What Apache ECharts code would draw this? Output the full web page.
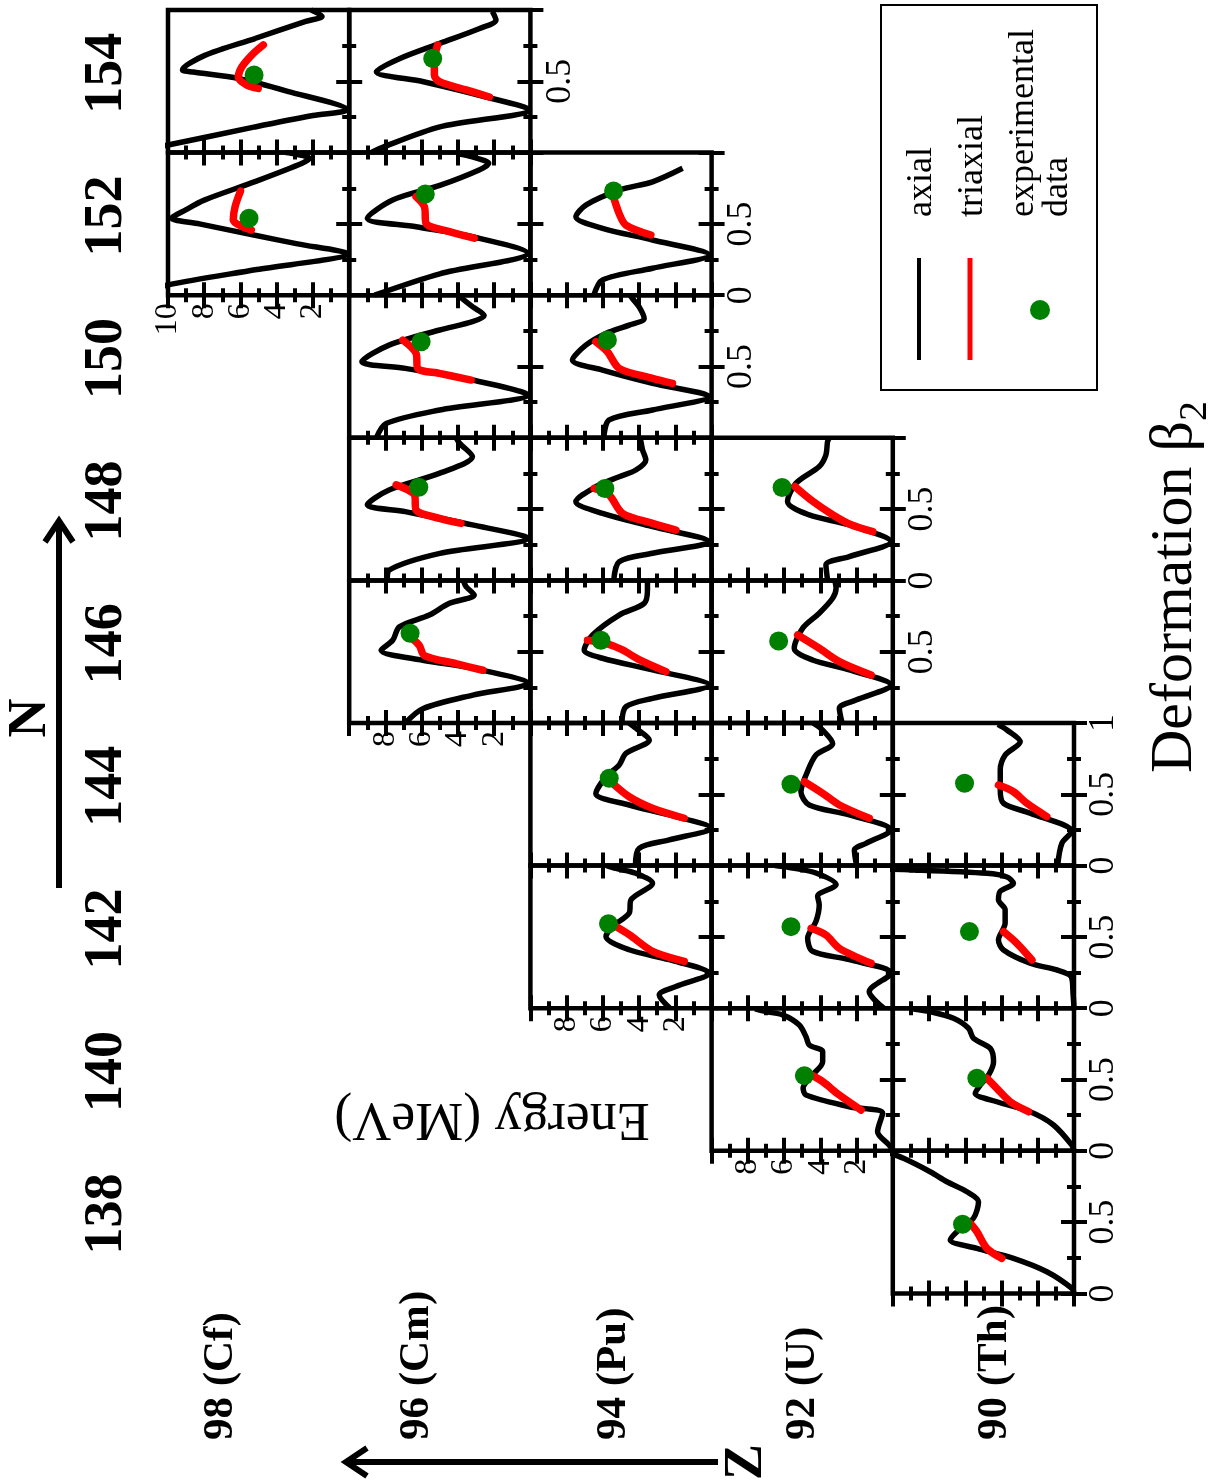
<!DOCTYPE html>
<html><head><meta charset="utf-8">
<script src="https://cdn.jsdelivr.net/npm/echarts@6/dist/echarts.min.js"></script>
<style>html,body{margin:0;padding:0;background:#fff}#c{width:1225px;height:1484px}</style>
</head><body><div id="c"></div>
<script>
// ---------- categories ----------
const zOrder = ['Cf', 'Cm', 'Pu', 'U', 'Th'];
const zLabels = ['98 (Cf)', '96 (Cm)', '94 (Pu)', '92 (U)', '90 (Th)'];
const nOrder = [154, 152, 150, 148, 146, 144, 142, 140, 138];
const nLabels = ['154', '152', '150', '148', '146', '144', '142', '140', '138'];

// ---------- data: [energy (MeV), deformation beta2] ----------
const cf154_axial = [[12.0,0.0],[10.0,0.053],[5.2,0.18],[2.0,0.26],[0.1,0.30],[3.4,0.43],[6.1,0.52],[8.6,0.565],[9.2,0.58],[8.0,0.68],[5.2,0.80],[2.4,0.92],[1.5,0.955],[2.1,1.0]];
const cf154_triax = [[4.74,0.755],[5.38,0.684],[5.93,0.60],[6.12,0.53],[5.66,0.474],[5.02,0.45]];
const cf154_exp = [[5.25,0.544]];

const cf152_axial = [[11.5,0.0],[10.0,0.072],[5.1,0.18],[0.1,0.29],[2.85,0.36],[5.2,0.42],[8.27,0.50],[9.8,0.54],[9.0,0.60],[8.0,0.667],[5.2,0.796],[2.6,0.925],[2.2,0.96],[3.0,0.99],[3.5,1.0]];
const cf152_triax = [[6.0,0.73],[6.3,0.62],[6.4,0.527],[5.9,0.48],[5.4,0.457]];
const cf152_exp = [[5.53,0.54]];

const cm154_axial = [[8.8,0.0],[8.3,0.03],[5.0,0.18],[0.05,0.30],[2.45,0.39],[5.9,0.497],[8.5,0.567],[7.2,0.66],[5.0,0.766],[2.8,0.87],[1.9,0.93],[2.1,0.99]];
const cm154_triax = [[2.26,0.39],[3.55,0.44],[5.02,0.497],[5.3,0.544],[5.3,0.649],[5.12,0.755]];
const cm154_exp = [[5.39,0.66]];

const cm152_axial = [[8.6,0.0],[5.0,0.15],[0.15,0.294],[3.2,0.41],[6.3,0.48],[9.0,0.539],[7.6,0.668],[5.0,0.77],[2.8,0.88],[2.3,0.925],[3.2,0.97],[3.9,0.99]];
const cm152_triax = [[3.1,0.40],[4.47,0.446],[5.76,0.504],[5.85,0.62],[6.31,0.69]];
const cm152_exp = [[5.8,0.71]];

const cm150_axial = [[8.5,0.0],[7.96,0.1],[5.0,0.195],[0.15,0.30],[3.2,0.405],[6.9,0.487],[9.3,0.534],[7.8,0.65],[5.0,0.756],[3.2,0.814],[2.55,0.857],[3.2,0.92],[3.9,0.99]];
const cm150_triax = [[3.27,0.405],[5.02,0.452],[6.22,0.487],[6.31,0.592],[7.04,0.685]];
const cm150_exp = [[6.03,0.674]];

const cm148_axial = [[7.9,0.0],[7.78,0.073],[5.0,0.19],[0.15,0.295],[3.2,0.389],[6.9,0.482],[9.0,0.53],[7.8,0.634],[5.0,0.752],[3.2,0.868],[3.9,0.961],[4.1,1.0]];
const cm148_triax = [[3.83,0.40],[5.02,0.435],[6.31,0.494],[6.4,0.60],[7.41,0.67]];
const cm148_exp = [[6.16,0.653]];

const cm146_axial = [[6.9,0.0],[5.94,0.10],[3.18,0.196],[0.15,0.278],[3.18,0.384],[5.94,0.44],[8.24,0.51],[7.6,0.58],[7.23,0.674],[5.58,0.757],[4.47,0.839],[3.1,0.898],[3.55,0.956],[3.7,1.0]];
const cm146_triax = [[2.63,0.37],[4.1,0.416],[5.85,0.473],[6.13,0.543],[6.59,0.60]];
const cm146_exp = [[6.64,0.63]];

const pu152_axial = [[6.5,0.0],[6.02,0.107],[3.26,0.189],[0.13,0.282],[3.26,0.387],[6.02,0.469],[7.49,0.55],[6.94,0.632],[5.1,0.737],[3.26,0.795],[1.6,0.89]];
const pu152_triax = [[3.35,0.422],[4.73,0.492],[5.1,0.572],[5.47,0.712]];
const pu152_exp = [[5.41,0.731]];

const pu150_axial = [[5.95,0.0],[5.65,0.125],[3.26,0.195],[0.13,0.288],[3.26,0.382],[6.02,0.475],[7.68,0.546],[6.94,0.65],[5.83,0.732],[4.55,0.79],[3.72,0.837],[4.0,0.918],[4.37,0.977],[4.5,1.0]];
const pu150_triax = [[2.16,0.382],[3.26,0.417],[5.1,0.487],[5.75,0.604],[6.39,0.674]];
const pu150_exp = [[5.75,0.686]];

const pu148_axial = [[5.4,0.0],[5.1,0.131],[3.26,0.19],[0.13,0.271],[3.26,0.377],[6.02,0.47],[7.49,0.552],[6.39,0.657],[5.1,0.727],[4.18,0.774],[3.63,0.845],[3.81,0.915],[3.9,0.973],[3.95,1.0]];
const pu148_triax = [[1.97,0.353],[3.26,0.40],[4.92,0.47],[5.65,0.598],[6.48,0.645]];
const pu148_exp = [[5.89,0.645]];

const pu146_axial = [[4.95,0.0],[4.73,0.114],[3.26,0.173],[0.13,0.266],[3.26,0.372],[6.02,0.454],[7.03,0.512],[6.57,0.617],[5.1,0.757],[3.72,0.839],[3.54,0.932],[3.54,1.0]];
const pu146_triax = [[2.52,0.36],[4.0,0.444],[4.92,0.512],[5.83,0.558],[6.85,0.58]];
const pu146_exp = [[6.11,0.58]];

const pu144_axial = [[4.2,0.0],[4.0,0.121],[2.34,0.18],[0.04,0.262],[2.34,0.355],[4.55,0.425],[6.39,0.506],[5.83,0.623],[5.1,0.705],[4.73,0.787],[3.44,0.88],[4.18,0.963],[4.55,1.0]];
const pu144_triax = [[1.51,0.332],[3.26,0.402],[4.55,0.483],[5.56,0.588]];
const pu144_exp = [[5.65,0.612]];

const pu142_axial = [[2.3,0.0],[2.89,0.093],[1.97,0.152],[0.13,0.245],[2.34,0.34],[4.55,0.41],[5.83,0.503],[5.47,0.573],[4.55,0.666],[4.45,0.76],[3.26,0.876],[4.18,0.946],[5.28,0.98],[5.8,1.0]];
const pu142_triax = [[1.51,0.329],[3.26,0.399],[4.55,0.516],[5.28,0.573]];
const pu142_exp = [[5.69,0.592]];

const u148_axial = [[3.6,0.0],[3.69,0.109],[2.4,0.167],[0.1,0.271],[2.4,0.389],[4.61,0.459],[5.81,0.553],[5.34,0.682],[4.06,0.799],[3.69,0.881],[3.6,0.974],[3.5,1.0]];
const u148_triax = [[1.1,0.342],[2.3,0.39],[3.3,0.459],[4.4,0.553],[5.4,0.658]];
const u148_exp = [[6.11,0.651]];

const u146_axial = [[2.8,0.0],[2.95,0.103],[2.03,0.161],[0.1,0.266],[2.4,0.372],[4.43,0.442],[5.44,0.524],[4.98,0.664],[4.06,0.77],[3.32,0.875],[3.13,0.945],[3.2,1.0]];
const u146_triax = [[1.2,0.336],[2.95,0.43],[4.06,0.524],[5.25,0.617]];
const u146_exp = [[6.3,0.575]];

const u144_axial = [[2.0,0.0],[2.12,0.109],[1.48,0.156],[0.1,0.25],[2.4,0.355],[4.61,0.425],[5.07,0.518],[4.79,0.635],[4.24,0.775],[3.32,0.857],[3.87,0.95],[4.4,1.0]];
const u144_triax = [[1.3,0.332],[2.95,0.425],[3.87,0.507],[4.88,0.588]];
const u144_exp = [[5.62,0.57]];

const u142_axial = [[0.5,0.0],[1.3,0.116],[0.1,0.245],[2.4,0.34],[4.43,0.399],[4.7,0.492],[4.24,0.609],[4.06,0.726],[4.15,0.785],[3.13,0.867],[4.24,0.948],[5.53,0.983],[6.5,1.0]];
const u142_triax = [[1.2,0.315],[2.95,0.42],[3.69,0.513],[4.51,0.56]];
const u142_exp = [[5.62,0.572]];

const u140_axial = [[0.0,0.0],[0.2,0.04],[0.84,0.134],[0.56,0.263],[2.4,0.309],[4.79,0.391],[4.95,0.44],[4.43,0.532],[3.87,0.625],[3.87,0.695],[4.61,0.742],[4.79,0.80],[5.16,0.882],[6.08,0.953],[7.0,0.976],[7.6,0.995]];
const u140_triax = [[1.75,0.286],[2.95,0.391],[3.87,0.485],[4.51,0.532]];
const u140_exp = [[4.88,0.527]];

const th144_axial = [[0.9,0.0],[0.67,0.156],[0.12,0.239],[2.42,0.367],[3.89,0.437],[4.07,0.53],[4.07,0.67],[3.8,0.775],[2.97,0.869],[3.7,0.951],[4.2,0.99]];
const th144_triax = [[1.5,0.344],[2.6,0.437],[3.34,0.518],[4.17,0.565]];
const th144_exp = [[6.04,0.577]];

const th142_axial = [[0.0,0.0],[0.05,0.1],[0.15,0.22],[1.0,0.27],[2.42,0.315],[3.89,0.408],[4.17,0.478],[3.8,0.597],[3.8,0.69],[4.17,0.76],[4.07,0.82],[3.34,0.876],[3.7,0.92],[4.81,0.946],[8.86,0.97],[11.0,0.975]];
const th142_triax = [[2.32,0.338],[3.15,0.455],[3.89,0.537]];
const th142_exp = [[5.77,0.537]];

const th140_axial = [[0.0,0.0],[0.12,0.04],[1.13,0.181],[2.42,0.274],[4.26,0.344],[5.45,0.403],[5.18,0.46],[4.72,0.53],[4.44,0.625],[4.62,0.718],[5.55,0.789],[5.82,0.859],[6.65,0.929],[7.94,0.976],[8.86,0.995]];
const th140_triax = [[2.51,0.274],[3.52,0.344],[4.26,0.438],[4.81,0.509]];
const th140_exp = [[5.36,0.509]];

const th138_axial = [[0.0,0.0],[0.12,0.036],[1.5,0.152],[3.34,0.246],[5.36,0.316],[6.83,0.374],[6.46,0.433],[5.55,0.527],[5.27,0.643],[5.91,0.713],[7.01,0.783],[7.94,0.853],[9.41,0.947],[10.5,1.0]];
const th138_triax = [[3.98,0.246],[4.81,0.316],[5.36,0.433],[5.73,0.492]];
const th138_exp = [[6.15,0.485]];

// ---------- tick labels ----------
const energyTicksShown = [2, 4, 6, 8];
const energyTicksShownCf = [2, 4, 6, 8, 10];
const betaMid = [0.5];
const betaMidZero = [0, 0.5];
const betaAll = [0, 0.5, 1];

// panel list: Z, N, data, label sets
const panels = [
  ['Cf',154,cf154_axial,cf154_triax,cf154_exp,null,null],
  ['Cf',152,cf152_axial,cf152_triax,cf152_exp,energyTicksShownCf,null],
  ['Cm',154,cm154_axial,cm154_triax,cm154_exp,null,betaMid],
  ['Cm',152,cm152_axial,cm152_triax,cm152_exp,null,null],
  ['Cm',150,cm150_axial,cm150_triax,cm150_exp,null,null],
  ['Cm',148,cm148_axial,cm148_triax,cm148_exp,null,null],
  ['Cm',146,cm146_axial,cm146_triax,cm146_exp,energyTicksShown,null],
  ['Pu',152,pu152_axial,pu152_triax,pu152_exp,null,betaMidZero],
  ['Pu',150,pu150_axial,pu150_triax,pu150_exp,null,betaMid],
  ['Pu',148,pu148_axial,pu148_triax,pu148_exp,null,null],
  ['Pu',146,pu146_axial,pu146_triax,pu146_exp,null,null],
  ['Pu',144,pu144_axial,pu144_triax,pu144_exp,null,null],
  ['Pu',142,pu142_axial,pu142_triax,pu142_exp,energyTicksShown,null],
  ['U',148,u148_axial,u148_triax,u148_exp,null,betaMidZero],
  ['U',146,u146_axial,u146_triax,u146_exp,null,betaMid],
  ['U',144,u144_axial,u144_triax,u144_exp,null,null],
  ['U',142,u142_axial,u142_triax,u142_exp,null,null],
  ['U',140,u140_axial,u140_triax,u140_exp,energyTicksShown,null],
  ['Th',144,th144_axial,th144_triax,th144_exp,null,betaAll],
  ['Th',142,th142_axial,th142_triax,th142_exp,null,betaMidZero],
  ['Th',140,th140_axial,th140_triax,th140_exp,null,betaMidZero],
  ['Th',138,th138_axial,th138_triax,th138_exp,null,betaMidZero]
];

// ---------- layout ----------
const FONT = "'Liberation Serif', 'Times New Roman', serif";
const X0 = 168, PW = 181.2, Y0 = 10, PH = 142.6;
const tickStyle = {color: '#000', width: 4};

const grids = [], xAxes = [], yAxes = [], series = [];
function axisCfg(i, pos, max, step, tickLen, lab, rot, size, margin) {
  return {gridIndex: i, type: 'value', min: 0, max: max, interval: step, position: pos,
    inverse: max === 10,
    axisLine: {show: false}, splitLine: {show: false}, minorTick: {show: false},
    axisTick: {show: true, inside: true, length: tickLen, lineStyle: tickStyle},
    axisLabel: lab ? {show: true, rotate: rot, margin: margin, fontSize: size, fontFamily: FONT, color: '#000',
      formatter: v => lab.includes(v) ? String(v) : ''} : {show: false}
  };
}
panels.forEach((p, i) => {
  const [z, n, axial, triax, exp, eLab, bLab] = p;
  const col = zOrder.indexOf(z), row = nOrder.indexOf(n);
  grids.push({left: X0 + col * PW, top: Y0 + row * PH, width: PW, height: PH,
    show: true, borderColor: '#000', borderWidth: 4.5, backgroundColor: 'transparent',
    containLabel: false, outerBoundsMode: 'none'});
  // x axes: bottom major (labels), bottom minor, top major, top minor
  xAxes.push(axisCfg(i, 'bottom', 10, 2, 13, eLab, 90, 32, 8));
  xAxes.push(axisCfg(i, 'bottom', 10, 1, 7, null));
  xAxes.push(axisCfg(i, 'top', 10, 2, 13, null));
  xAxes.push(axisCfg(i, 'top', 10, 1, 7, null));
  // y axes: right major (labels), right minor, left major, left minor
  yAxes.push(axisCfg(i, 'right', 1, 0.5, 13, bLab, 90, 36, 12));
  yAxes.push(axisCfg(i, 'right', 1, 0.25, 7, null));
  yAxes.push(axisCfg(i, 'left', 1, 0.5, 13, null));
  yAxes.push(axisCfg(i, 'left', 1, 0.25, 7, null));
  const xi = 4 * i, yi = 4 * i;
  series.push({type: 'line', name: 'axial', xAxisIndex: xi, yAxisIndex: yi, data: axial, smooth: 0.3,
    showSymbol: false, symbol: 'none', clip: true, lineStyle: {color: '#000', width: 5.5}, z: 2});
  series.push({type: 'line', name: 'triaxial', xAxisIndex: xi, yAxisIndex: yi, data: triax, smooth: 0.3,
    showSymbol: false, symbol: 'none', clip: true, lineStyle: {color: '#ff0000', width: 7.5, cap: 'round'}, z: 3});
  series.push({type: 'scatter', name: 'experimental data', xAxisIndex: xi, yAxisIndex: yi, data: exp,
    symbol: 'circle', symbolSize: 19, itemStyle: {color: '#008000', opacity: 1}, z: 4});
});

// ---------- text & decorations ----------
const R = Math.PI / 2;
function txt(x, y, text, size, weight, rot, align) {
  return {type: 'text', x, y, rotation: rot, z: 10,
    style: {text, fontSize: size, fontFamily: FONT, fontWeight: weight, fill: '#000',
      align: align, verticalAlign: 'middle'}};
}
const graphics = [];
nLabels.forEach((t, r) => graphics.push(txt(107, Y0 + r * PH + PH / 2 - 8, t, 54, 'bold', R, 'center')));
const zLabelX = [221, 417, 614, 803, 995];
zLabels.forEach((t, c) => graphics.push(txt(zLabelX[c], 1440, t, 43, 'bold', R, 'left')));
graphics.push(txt(31, 718, 'N', 54, 'bold', R, 'center'));
graphics.push(txt(747, 1462, 'Z', 54, 'bold', R, 'center'));
graphics.push(txt(492, 1118, 'Energy (MeV)', 54, 'normal', Math.PI, 'center'));
graphics.push({type: 'text', x: 1175, y: 587, rotation: R, z: 10,
  style: {text: '{a|Deformation β}{b|2}', align: 'center', verticalAlign: 'middle',
    rich: {a: {fontSize: 60, fontFamily: FONT, fill: '#000', lineHeight: 80, verticalAlign: 'middle'},
           b: {fontSize: 40, fontFamily: FONT, fill: '#000', lineHeight: 80, verticalAlign: 'bottom'}}}});
// arrows
graphics.push({type: 'line', shape: {x1: 59, y1: 888, x2: 59, y2: 524}, style: {stroke: '#000', lineWidth: 6}, z: 10});
graphics.push({type: 'polyline', shape: {points: [[45, 542], [59, 521], [73, 542]]}, style: {stroke: '#000', lineWidth: 6, fill: null}, z: 10});
graphics.push({type: 'line', shape: {x1: 718, y1: 1462, x2: 348, y2: 1462}, style: {stroke: '#000', lineWidth: 6}, z: 10});
graphics.push({type: 'polyline', shape: {points: [[367, 1448], [346, 1462], [367, 1476]]}, style: {stroke: '#000', lineWidth: 6, fill: null}, z: 10});
// legend box
graphics.push({type: 'rect', shape: {x: 881, y: 5, width: 216, height: 385}, style: {stroke: '#000', lineWidth: 2, fill: '#fff'}, z: 9});
graphics.push({type: 'line', shape: {x1: 919, y1: 258, x2: 919, y2: 360}, style: {stroke: '#000', lineWidth: 4}, z: 10});
graphics.push({type: 'line', shape: {x1: 970, y1: 258, x2: 970, y2: 360}, style: {stroke: '#ff0000', lineWidth: 5}, z: 10});
graphics.push({type: 'circle', shape: {cx: 1040, cy: 310, r: 10}, style: {fill: '#008000'}, z: 10});
graphics.push(txt(922, 217, 'axial', 36, 'normal', R, 'left'));
graphics.push(txt(973, 217, 'triaxial', 36, 'normal', R, 'left'));
graphics.push(txt(1024, 217, 'experimental', 36, 'normal', R, 'left'));
graphics.push(txt(1058, 217, 'data', 36, 'normal', R, 'left'));

const chart = echarts.init(document.getElementById('c'), null, {renderer: 'canvas'});
chart.setOption({
  animation: false,
  backgroundColor: '#fff',
  grid: grids, xAxis: xAxes, yAxis: yAxes, series: series,
  graphic: {elements: graphics}
});
</script></body></html>
